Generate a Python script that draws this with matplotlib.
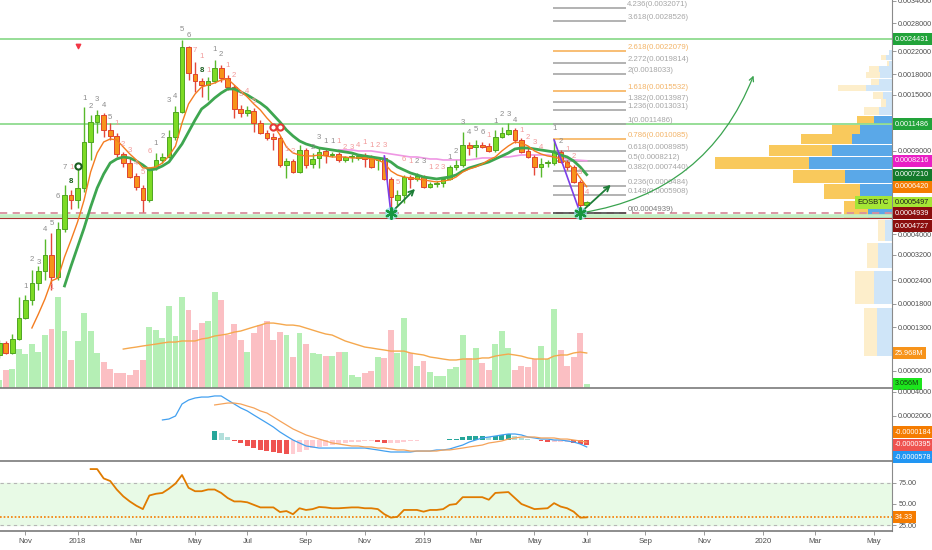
import numpy as np
import pandas as pd
import matplotlib
matplotlib.use("Agg")
import matplotlib.pyplot as plt
import matplotlib.dates as mdates
from matplotlib.ticker import FixedLocator, FixedFormatter, NullLocator

plt.rcParams['font.family'] = ['Liberation Sans', 'DejaVu Sans']

# ---- weekly EOSBTC data (prices in satoshi, volume in millions)
weeks = pd.date_range('2017-10-09', periods=91, freq='7D')

open_sats = [8230, 10150, 8540, 10840, 14830, 18850, 23250, 26750, 31990, 24950,
             42170, 59280, 56450, 63440, 97800, 117370, 125030, 109150, 103330, 87530,
             80470, 71170, 63440, 56450, 76780, 82770, 85120, 102390, 128450, 228130,
             180100, 169320, 163430, 169320, 189860, 173860, 160560, 131960, 127300, 129610,
             116310, 106200, 102390, 101460, 78980, 82000, 73930, 90840, 79720, 84330,
             90000, 86720, 87530, 82770, 84720, 84330, 85910, 85120, 82770, 84330,
             69170, 56450, 59280, 70500, 69170, 70500, 64060, 65930, 66570, 69170,
             77500, 78980, 95130, 93390, 95130, 94260, 90840, 102390, 105240, 109150,
             99610, 90000, 85120, 77500, 80090, 80470, 89170, 81230, 77500, 67210,
             53730]
high_sats = [10660, 10490, 11730, 19580, 20080, 27060, 28310, 37990, 40460, 45310,
             65300, 62230, 77500, 134350, 125030, 130780, 127300, 116310, 106200, 89170,
             85120, 73230, 65300, 77500, 88350, 88350, 109150, 135560, 242460, 230120,
             200120, 173860, 175400, 203660, 194920, 178520, 163430, 136780, 135560, 133150,
             119510, 109150, 106200, 103330, 84330, 83540, 95130, 92530, 88350, 93390,
             92530, 89170, 89170, 85910, 87530, 86720, 88350, 86720, 85120, 85910,
             70500, 62230, 71850, 71850, 73230, 71850, 67210, 67860, 70500, 78980,
             82770, 107180, 97800, 99610, 97800, 96900, 109150, 112170, 116310, 111150,
             101460, 92530, 86720, 84330, 82770, 99610, 90840, 82770, 78980, 68510,
             55900]
low_sats = [7780, 8390, 8390, 10660, 14620, 17670, 21360, 24090, 21360, 24090,
            40880, 51640, 52160, 61030, 82770, 106200, 102390, 99610, 85120, 77500,
            69830, 62230, 50120, 55350, 75340, 80470, 84330, 99610, 127300, 170820,
            153590, 146910, 143030, 166350, 167830, 156350, 121690, 122800, 123910, 107180,
            105240, 99610, 90840, 77500, 69830, 73230, 73230, 76780, 76780, 76780,
            80470, 85120, 81230, 81230, 81230, 82770, 77500, 76780, 75340, 68510,
            49620, 53730, 54800, 63440, 67860, 63440, 63440, 64060, 64060, 68510,
            75340, 77500, 86720, 85120, 92530, 89170, 89170, 101460, 104280, 96900,
            88350, 84330, 71850, 70500, 77500, 78980, 80470, 75340, 66570, 49620,
            53200]
close_sats = [10150, 8540, 10840, 14830, 18850, 23250, 26750, 31990, 24950, 42170,
              59280, 56450, 63440, 97800, 117370, 125030, 109150, 103330, 87530, 80470,
              70500, 64060, 56450, 76780, 82770, 85120, 102390, 128450, 228130, 181690,
              169320, 163430, 169320, 189860, 173860, 160560, 131960, 127300, 130780, 116310,
              106200, 101460, 100530, 78980, 82000, 73930, 90840, 78980, 83540, 89170,
              86720, 87530, 82770, 85120, 85520, 85910, 83540, 77500, 84330, 69170,
              58130, 59280, 70500, 69170, 71170, 64060, 65930, 66570, 69170, 77500,
              78980, 95130, 92530, 95130, 93390, 90000, 102390, 106200, 109150, 99610,
              89170, 85120, 77500, 79720, 80850, 89170, 81230, 77500, 67210, 53730,
              55350]
volume_m = [6, 13.4, 14, 29, 25, 33, 27, 39, 44, 67.5,
            42, 21, 35, 56, 42, 26, 19, 14, 11, 11,
            10, 13, 21, 45, 43, 37, 61, 38.5, 67.5, 58,
            43, 48, 50, 71, 65, 39, 47.5, 36, 27, 41,
            47, 50, 36, 41.5, 39, 23, 41, 33, 26, 25,
            24, 23.5, 27, 27, 9.5, 8, 11, 12.6, 23, 22,
            43, 26, 52, 26, 16, 20, 12, 9, 9, 14,
            15.6, 39, 22, 30, 18.5, 13, 32.6, 42, 30, 13,
            16, 15.6, 21.5, 31, 21.5, 59, 28, 16, 23, 41,
            3.056]

# moving averages (first value belongs to the week index given)
FAST_FROM, SLOW_FROM, PINK_FROM, VMA_FROM = 5, 10, 52, 19
ema_fast_sats = [12840, 15670, 19090, 23810, 24660, 31300, 37590, 45310, 56450, 73930,
                 88350, 97800, 100530, 99610, 93390, 87530, 82770, 76780, 76780, 77500,
                 80470, 85910, 94260, 116310, 138010, 150890, 160560, 163430, 166350, 170820,
                 172330, 163430, 154970, 146910, 138010, 130780, 121690, 114220, 104280, 93390,
                 88350, 86720, 85910, 85910, 86720, 85910, 85120, 85120, 85120, 84330,
                 84330, 84330, 83540, 82770, 80470, 74630, 71850, 70500, 69830, 69170,
                 68510, 67860, 67210, 67860, 68510, 70500, 73930, 76060, 77500, 79720,
                 82770, 85120, 90000, 94260, 97800, 96900, 94260, 90000, 87530, 85910,
                 85120, 83540, 80470, 76060, 69830, 64200]
ema_slow_sats = [22430, 28310, 34900, 42610, 52680, 63440, 72540, 80470, 83540, 85120,
                 84330, 82000, 78980, 75340, 76060, 78230, 81230, 88350, 96010, 107180,
                 119510, 131960, 138010, 145600, 152230, 157740, 157740, 153590, 149550, 144310,
                 139250, 133150, 125030, 117370, 109150, 103330, 98700, 96010, 94260, 92530,
                 91680, 90840, 90000, 89170, 88350, 86720, 85910, 85120, 84330, 83540,
                 81230, 77500, 75340, 73230, 71850, 70500, 69830, 69170, 69830, 70500,
                 71850, 74630, 76780, 78230, 79720, 81230, 83540, 85910, 88350, 91680,
                 92530, 92530, 91680, 90840, 90000, 89170, 86720, 85120, 82000, 77500,
                 72100]
ma_pink_sats = [90840, 90840, 90840, 90000, 90000, 90000, 89170, 88350, 87530, 86720,
                85910, 85120, 85120, 84330, 83540, 83540, 82770, 82770, 82770, 82770,
                82770, 83540, 84330, 84330, 84330, 85120, 85120, 85910, 86720, 86720,
                86720, 86720, 86720, 85910, 84330, 83540, 82770, 82500, 82160]
vol_ma_m = [28.9, 29.7, 30.4, 31.2, 31.9, 32.6, 33.4, 34.1, 34.1, 34.9,
            34.9, 34.9, 36.4, 37.1, 38.6, 39.3, 40.1, 41.5, 42.3, 43.8,
            45.3, 46.7, 48.2, 48.2, 47.5, 46.7, 46.7, 46.0, 44.5, 43.0,
            41.5, 40.1, 39.3, 37.1, 34.9, 33.4, 31.9, 30.4, 29.7, 28.9,
            28.2, 27.4, 27.4, 27.4, 26.0, 25.2, 24.5, 23.0, 22.3, 21.5,
            20.8, 20.8, 21.5, 21.5, 21.5, 22.3, 22.3, 23.7, 24.5, 25.2,
            24.5, 23.7, 22.3, 21.5, 21.5, 21.5, 23.7, 24.5, 24.5, 26.0,
            26.7, 25.968]

# TD sequential counts: week index, price (sats), text, kind (g grey, p pink, d dark)
td_week = [4, 5, 6, 7, 8, 9, 10, 8, 11, 11,
           13, 14, 15, 16, 17, 18, 19, 20, 21, 22, 23,
           24, 25, 26, 27, 28, 29, 30, 31, 31, 32, 33, 34, 35, 36, 37, 38, 39,
           44, 45, 48, 49, 50, 51, 52, 53, 54, 55, 56, 57, 58, 59, 61, 62, 63, 64, 65, 66, 67, 68,
           69, 70, 71, 72, 73, 74, 75, 76, 77, 78, 79, 80, 81, 82, 83, 85, 86, 87, 88, 89, 90]
td_sats = [22160, 30280, 29290, 41740, 44390, 58130, 76780, 21890, 76780, 67210,
           144310, 134350, 143030, 135560, 121690, 115270, 95130, 90000, 79720, 73230, 89170,
           96010, 102390, 141760, 146910, 264420, 251020, 220320, 209070, 184920, 184920, 222250,
           212760, 193220, 176950, 149550, 153590, 140500,
           90840, 89170, 92530, 101460, 97800, 97800, 97800, 92530, 92530, 94260, 96900, 94260,
           94260, 94260, 66570, 82770, 81230, 81230, 81230, 76780, 76780, 76780,
           84330, 89170, 116310, 106200, 109150, 106200, 103330, 117370, 125030, 125030, 118440,
           108160, 101460, 96900, 92530, 110150, 97800, 90840, 85120, 73230, 60440]
td_text = "1234567118" "12345123456" "12345671811212345" "1223111234112356123123" "123456112341234121234"
td_kind = "gggggggppd" "gggggpppppp" "ggggggppdpggppppp" "ppggggpppppppppppggppp" "ggggggpggggppppggpppp"

# macd (x1e-5) and rsi
MACD_FROM, SIG_FROM, RSI_FROM = 25, 33, 14
macd_e5 = [16.7, 17.5, 20.0, 30.0, 33.3, 35.0, 35.8, 35.8, 36.7, 36.7,
           33.3, 30.0, 26.7, 24.2, 20.8, 17.5, 14.2, 10.8, 6.7, 3.3,
           0.0, -2.5, -5.0, -5.8, -6.7, -6.7, -6.7, -6.7, -6.7, -6.7,
           -6.7, -6.7, -7.5, -8.3, -9.2, -10.0, -10.0, -10.0, -10.0, -9.2,
           -9.2, -9.2, -8.3, -8.3, -7.5, -5.8, -4.2, -1.7, 0.0, 1.7,
           2.5, 3.3, 4.2, 5.0, 5.0, 4.2, 2.5, 1.7, 0.8, 0.8,
           0.0, 0.0, -0.8, -1.7, -3.3, -5.78]
signal_e5 = [29.2, 30.0, 30.8, 30.8, 30.0, 28.3, 26.7, 24.2, 22.5, 19.2,
             15.8, 12.5, 9.2, 6.7, 4.2, 2.5, 0.8, -0.8, -2.5, -3.3,
             -4.2, -5.0, -5.0, -5.8, -5.8, -6.7, -6.7, -7.5, -8.3, -8.3,
             -9.2, -9.2, -9.2, -9.2, -9.2, -8.3, -8.3, -7.5, -6.7, -5.8,
             -5.0, -4.2, -2.5, -1.7, -0.8, 0.8, 1.7, 2.5, 2.5, 2.5,
             1.7, 1.7, 1.7, 0.8, 0.8, 0.0, -0.8, -1.84]
hist_e5 = [7.5, 5.8, 2.5, -0.8, -2.5, -5.0, -6.7, -8.3, -9.2, -10.0,
           -10.8, -11.7, -11.7, -10.0, -8.3, -6.7, -5.8, -5.0, -4.2, -3.3,
           -2.5, -1.7, -1.7, -1.2, -0.8, -1.7, -2.5, -2.5, -2.5, -1.7,
           -1.2, -0.8, -0.4, -0.4, 0.3, 0.4, 0.7, 1.2, 2.5, 3.3,
           3.3, 3.3, 2.5, 3.3, 4.2, 5.0, 3.3, 1.7, 0.8, 0.4,
           -1.2, -1.7, -1.7, -1.7, -1.7, -2.5, -3.3, -3.95]
rsi = [91, 91, 80, 77, 67, 59, 53, 48, 44, 60,
       62, 63, 68, 74, 84, 69, 65, 65, 67, 67,
       63, 57, 53, 53, 52, 49, 46, 46, 46, 40.6,
       41.7, 38, 45, 43, 44, 46.5, 46, 45, 45, 45.5,
       46, 46, 45, 45, 44, 38, 34, 35, 43, 43,
       43, 41, 43, 43, 44, 49, 50, 58, 58, 58,
       58, 55, 63, 63.5, 64, 57, 50, 47, 44, 44.5,
       45, 51, 47, 45, 41, 34, 34.33]

# fibonacci extension, levels and volume profile
fib_ratio = ['4.236', '3.618', '2.618', '2.272', '2', '1.618', '1.382', '1.236',
             '1', '0.786', '0.618', '0.5', '0.382', '0.236', '0.148', '0']
fib_price = [0.0032071, 0.0028526, 0.0022079, 0.0019814, 0.0018033, 0.0015532, 0.0013987, 0.0013031,
             0.0011486, 0.0010085, 0.0008985, 0.0008212, 0.0007440, 0.0006484, 0.0005908, 0.0004939]
green_levels = [0.0024431, 0.0011486]
support_dash, support_band, support_low = 0.0004939, 0.0004815, 0.0004727
vp_bottom, vp_step = 0.0000808, 0.0000975
vp_up = [15, 18, 14, 7, 24, 32, 47, 83, 60, 40, 32, 18, 13, 6, 9, 26, 13, 12, 13, 3, 6, 3]
vp_down = [13, 19, 11, 7, 24, 36, 52, 94, 63, 51, 28, 17, 15, 5, 10, 28, 8, 14, 10, 2, 5, 0]
vp_value_area = (4, 11)

# projection drawings
arrow1_week, arrow1_sats = 64, 64060
arrow2_date, arrow2_sats = '2019-07-29', 66570
curve_end_date, curve_end_sats = '2019-12-28', 181690
ring_green = (12, 78230)
ring_red = ([42, 43], 112170)
triangle_red = (12, 230120)

tick_dates = ['2017-11-06', '2018-01-01', '2018-03-05', '2018-05-07', '2018-07-02', '2018-09-03',
              '2018-11-05', '2019-01-07', '2019-03-04', '2019-05-06', '2019-07-01', '2019-09-02',
              '2019-11-04', '2020-01-06', '2020-03-02', '2020-05-04']
tick_names = ['Nov', '2018', 'Mar', 'May', 'Jul', 'Sep', 'Nov', '2019', 'Mar', 'May', 'Jul', 'Sep',
              'Nov', '2020', 'Mar', 'May']
price_ticks = [0.0034, 0.0028, 0.0022, 0.0018, 0.0015, 0.0009, 0.0004, 0.00032, 0.00024,
               0.00018, 0.00013, 0.00006]

# ---- figure
SAT = 1e-8
FS = 5.2
wx = mdates.date2num(weeks.to_pydatetime())
def dnum(s):
    return mdates.date2num(pd.Timestamp(s).to_pydatetime())
last = wx[-1]
xlim = (last - 629.2, last + 327.4)

fig = plt.figure(figsize=(9.32, 5.5), dpi=100)
def box(x0, y0, x1, y1):
    return [x0 / 932, 1 - y1 / 550, (x1 - x0) / 932, (y1 - y0) / 550]
axv = fig.add_axes(box(0, 0, 892, 388))
axp = fig.add_axes(box(0, 0, 892, 388))
ax = fig.add_axes(box(0, 0, 892, 388))
axm = fig.add_axes(box(0, 389, 892, 461))
axr = fig.add_axes(box(0, 462, 892, 531))

def fwd(p):
    return np.log10(np.clip(p, -0.9e-4, None) + 1e-4)
def inv(v):
    return 10.0 ** v - 1e-4
for a in (ax, axp):
    a.set_yscale('function', functions=(fwd, inv))
    a.set_ylim(0.0000384, 0.003424)
for a in (ax, axv, axm, axr):
    a.set_xlim(*xlim)
ax.patch.set_visible(False)
axp.axis('off')
axv.axis('off')

GRID = '#8a8a8a'
def style(a):
    for side in ('left', 'top'):
        a.spines[side].set_visible(False)
    a.spines['right'].set_color(GRID)
    a.spines['right'].set_linewidth(0.8)
    a.spines['bottom'].set_color('#7a7a7a')
    a.spines['bottom'].set_linewidth(1.2)
    a.yaxis.tick_right()
    a.tick_params(axis='y', which='both', direction='out', length=3, width=0.6,
                  colors=GRID, labelcolor='#4e4e4e', labelsize=FS, pad=1.5)
    a.tick_params(axis='x', which='both', bottom=False, labelbottom=False)
for a in (ax, axm, axr):
    style(a)

def tag(a, y, text, fc, tc='white', dy=0):
    a.annotate(text, xy=(1, y), xycoords=('axes fraction', 'data'), xytext=(2.2, dy),
               textcoords='offset points', ha='left', va='center', fontsize=FS, color=tc,
               bbox=dict(boxstyle='square,pad=0.35', fc=fc, ec='none'),
               annotation_clip=False, zorder=20)

# volume
o = np.array(open_sats) * SAT
h = np.array(high_sats) * SAT
l = np.array(low_sats) * SAT
c = np.array(close_sats) * SAT
up = c >= o
axv.bar(wx, volume_m, width=6.3, color=np.where(up, '#b5efb5', '#fbbfc3'), zorder=1)
axv.plot(wx[VMA_FROM:], vol_ma_m, color='#f5a84e', lw=1, zorder=2)
axv.set_ylim(0, 288)
tag(axv, 25.968, '25.968M', '#f7931a')
tag(axv, 3.056, '3.056M', '#1de51d', '#10400f')

# volume profile on the right edge
edges = vp_bottom + vp_step * np.arange(len(vp_up))
inside = (np.arange(len(vp_up)) >= vp_value_area[0]) & (np.arange(len(vp_up)) <= vp_value_area[1])
axp.barh(edges, vp_up, height=vp_step * 0.92, align='edge', left=0,
         color=np.where(inside, '#5aa8e8', '#cfe5f8'), zorder=1)
axp.barh(edges, vp_down, height=vp_step * 0.92, align='edge', left=vp_up,
         color=np.where(inside, '#f9c95c', '#fdeecb'), zorder=1)
axp.set_xlim(892, 0)

# horizontal levels
for lv in green_levels:
    ax.axhline(lv, color='#8fdb8f', lw=1.3, zorder=1)
ax.axhline(support_dash, color='#d9909e', lw=1.3, ls=(0, (4, 3)), zorder=1)
ax.axhline(support_band, color='#c3efc3', lw=2.6, zorder=1)
ax.axhline(support_low, color='#a83232', lw=0.8, zorder=1)

# fibonacci extension
fx0, fx1 = wx[85] - 1.5, dnum('2019-08-12')
for r, p in zip(fib_ratio, fib_price):
    if r in ('2.618', '1.618', '0.786'):
        lc, tc = '#f7b35c', '#f3b468'
    elif r == '0':
        lc, tc = '#4a4a4a', '#7a7a7a'
    else:
        lc, tc = '#a6a6a6', '#a6a6a6'
    ax.hlines(p, fx0, fx1, colors=lc, lw=1.2, zorder=2)
    ax.text(fx1 + 1.5, p, f'{r}({p:.7f})', fontsize=5.6, color=tc, ha='left', va='bottom', zorder=2)

# moving averages
ax.plot(wx[PINK_FROM:], np.array(ma_pink_sats) * SAT, color='#ef97e4', lw=1.2, zorder=3)
ax.plot(wx[SLOW_FROM:], np.array(ema_slow_sats) * SAT, color='#3ea650', lw=2, zorder=5)
ax.plot(wx[FAST_FROM:], np.array(ema_fast_sats) * SAT, color='#f47c20', lw=1, zorder=5)

# candles
ax.vlines(wx, l, h, colors=np.where(up, '#58b92c', '#e5483a'), lw=1, zorder=4)
lo, hi = np.minimum(o, c), np.maximum(o, c)
ax.bar(wx, hi - lo, bottom=lo, width=5.0, color=np.where(up, '#7ddb25', '#f7931a'),
       edgecolor=np.where(up, '#4fa522', '#e0432f'), lw=0.7, zorder=4)

# TD sequential counts
td_col = {'g': '#8c8c8c', 'p': '#f29a9a', 'd': '#1b5e20'}
for wk, pr, t, k in zip(td_week, td_sats, td_text, td_kind):
    ax.text(wx[wk], pr * SAT, t, ha='center', va='center', fontsize=5.6, color=td_col[k],
            fontweight='bold' if k == 'd' else 'normal', zorder=6)
ax.scatter([wx[ring_green[0]]], [ring_green[1] * SAT], s=20, facecolors='white',
           edgecolors='#1b5e20', linewidths=1.5, zorder=6)
ax.scatter(wx[ring_red[0]], [ring_red[1] * SAT] * 2, s=20, facecolors='white',
           edgecolors='#e53935', linewidths=1.5, zorder=6)
ax.scatter([wx[triangle_red[0]]], [triangle_red[1] * SAT], marker='v', s=10, color='#f23645', zorder=6)

# projection drawings
for a_w, b_w in ((59, 60), (85, 89)):
    ax.plot([wx[a_w], wx[b_w]], [h[a_w], l[b_w]], color='#7c3fe8', lw=1.2, zorder=7)
arrow_kw = dict(arrowstyle='->', color='#1d7d37', lw=1.3, mutation_scale=9)
ax.annotate('', xy=(wx[arrow1_week], arrow1_sats * SAT), xytext=(wx[60], l[60]),
            arrowprops=arrow_kw, zorder=7)
ax.annotate('', xy=(dnum(arrow2_date), arrow2_sats * SAT), xytext=(wx[89], l[89]),
            arrowprops=arrow_kw, zorder=7)
ax.annotate('', xy=(dnum(curve_end_date), curve_end_sats * SAT), xytext=(wx[89], l[89]),
            arrowprops=dict(arrowstyle='->', color='#3aa34f', lw=0.9, mutation_scale=8,
                            connectionstyle='arc3,rad=0.29'), zorder=7)
ax.scatter(wx[[60, 89]], l[[60, 89]], marker='o', s=70, color='#8fe6ee', alpha=0.6, zorder=7)
ax.scatter(wx[[60, 89]], l[[60, 89]], marker=(6, 2, 0), s=60, color='#17973f', linewidths=1.6, zorder=8)

# price axis
ax.yaxis.set_major_locator(FixedLocator(price_ticks))
ax.yaxis.set_major_formatter(FixedFormatter([f'{v:.7f}' for v in price_ticks]))
ax.yaxis.set_minor_locator(NullLocator())
tag(ax, 0.0024431, '0.0024431', '#22a33a')
tag(ax, 0.0011486, '0.0011486', '#22a33a')
tag(ax, 0.0008216, '0.0008216', '#e91fc4')
tag(ax, 0.0007210, '0.0007210', '#137a2b')
tag(ax, 0.0006420, '0.0006420', '#f57c00')
tag(ax, 0.0005497, '0.0005497', '#a5e635', '#1a1a1a')
tag(ax, 0.0004939, '0.0004939', '#8b0e0e')
tag(ax, 0.0004727, '0.0004727', '#8b0e0e', dy=-6)
ax.annotate('EOSBTC', xy=(1, 0.0005497), xycoords=('axes fraction', 'data'), xytext=(-2, 0),
            textcoords='offset points', ha='right', va='center', fontsize=FS + 0.3, color='#1a1a1a',
            bbox=dict(boxstyle='square,pad=0.35', fc='#a5e635', ec='none'), zorder=20)

# MACD
hist = np.array(hist_e5) * 1e-5
prev = np.concatenate([[hist[0]], hist[:-1]])
hcol = np.where(hist >= 0, np.where(hist >= prev, '#26a69a', '#b2dfdb'),
                np.where(hist < prev, '#ef5350', '#ffcdd2'))
axm.bar(wx[SIG_FROM:], hist, width=5.3, color=hcol, zorder=1)
axm.plot(wx[MACD_FROM:], np.array(macd_e5) * 1e-5, color='#42a0f0', lw=0.9, zorder=2)
axm.plot(wx[SIG_FROM:], np.array(signal_e5) * 1e-5, color='#f5a35a', lw=0.9, zorder=2)
axm.set_ylim(-0.000175, 0.000425)
axm.yaxis.set_major_locator(FixedLocator([0.0004, 0.0002]))
axm.yaxis.set_major_formatter(FixedFormatter(['0.0004000', '0.0002000']))
tag(axm, -0.0000184, '-0.0000184', '#f57c00', dy=7.3)
tag(axm, -0.0000395, '-0.0000395', '#ef5350')
tag(axm, -0.0000578, '-0.0000578', '#2196f3', dy=-7.3)

# RSI
axr.axhspan(25, 75, color='#e8fae6', zorder=0)
axr.axhline(75, color='#b5b5b5', lw=0.8, ls=(0, (3, 3)), zorder=1)
axr.axhline(25, color='#b5b5b5', lw=0.8, ls=(0, (3, 3)), zorder=1)
axr.axhline(rsi[-1], color='#f57c00', lw=1.2, ls=(0, (1, 1.2)), zorder=1)
axr.plot(wx[RSI_FROM:], rsi, color='#e07b00', lw=1.3, zorder=2)
axr.set_ylim(18.3, 99.3)
axr.yaxis.set_major_locator(FixedLocator([75, 50, 25]))
axr.yaxis.set_major_formatter(FixedFormatter(['75.00', '50.00', '25.00']))
tag(axr, rsi[-1], f'{rsi[-1]:.2f}', '#f57c00')

axr.xaxis.set_major_locator(FixedLocator([dnum(d) for d in tick_dates]))
axr.xaxis.set_major_formatter(FixedFormatter(tick_names))
axr.tick_params(axis='x', bottom=True, labelbottom=True, length=3, width=0.6, colors=GRID,
                labelcolor='#4e4e4e', labelsize=FS + 0.4, pad=2)

fig.savefig('out.png', dpi=100)
